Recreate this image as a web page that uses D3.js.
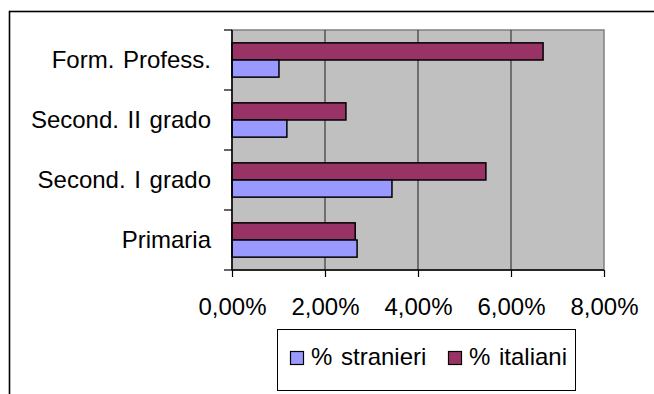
<!DOCTYPE html>
<html>
<head>
<meta charset="utf-8">
<script src="https://cdn.jsdelivr.net/npm/d3@7"></script>
<style>
  html, body { margin: 0; padding: 0; background: #fff; }
  svg { display: block; }
  text { font-family: "Liberation Sans", Arial, sans-serif; fill: #000; word-spacing: 2px; }
</style>
</head>
<body>
<svg id="chart" width="654" height="394"></svg>
<script>
// School levels, bottom to top as drawn on the vertical axis
const categories = ["Primaria", "Second. I grado", "Second. II grado", "Form. Profess."];
// Share of pupils (%) per level
const stranieri = [2.69, 3.44, 1.18, 1.01];
const italiani  = [2.65, 5.46, 2.45, 6.69];
const xTicks = [0, 2, 4, 6, 8];
const seriesNames = ["% stranieri", "% italiani"];
const seriesColors = ["#9999ff", "#993366"];

const svg = d3.select("#chart");
const W = 654, H = 394;
const FS = 24;

// outer chart frame (runs past the right and bottom edges)
svg.append("rect")
  .attr("x", 9.5).attr("y", 11.5)
  .attr("width", W + 20).attr("height", H + 20)
  .attr("fill", "#fff").attr("stroke", "#000").attr("stroke-width", 1.6);

const plot = { left: 232, right: 604, top: 30, bottom: 270 };

const x = d3.scaleLinear().domain([0, 8]).range([plot.left, plot.right]);
const y = d3.scaleBand()
  .domain(categories.slice().reverse())
  .range([plot.top, plot.bottom]);
// italiani sits above stranieri within each band
const inner = d3.scaleBand()
  .domain(["italiani", "stranieri"])
  .range([0, y.bandwidth()])
  .paddingOuter(0.75)
  .paddingInner(0);

// plot area
svg.append("rect")
  .attr("x", plot.left).attr("y", plot.top)
  .attr("width", plot.right - plot.left).attr("height", plot.bottom - plot.top)
  .attr("fill", "#c0c0c0").attr("stroke", "#808080").attr("stroke-width", 1.5);

// vertical gridlines
svg.append("g")
  .selectAll("line")
  .data(xTicks.filter(d => d > 0 && d < 8))
  .join("line")
  .attr("x1", d => x(d)).attr("x2", d => x(d))
  .attr("y1", plot.top).attr("y2", plot.bottom)
  .attr("stroke", "#3a3a3a").attr("stroke-width", 1.2);

// bars
const rows = categories.map((c, i) => ({ cat: c, stranieri: stranieri[i], italiani: italiani[i] }));
const barG = svg.append("g");
["italiani", "stranieri"].forEach(key => {
  barG.selectAll("rect." + key)
    .data(rows)
    .join("rect")
    .attr("class", key)
    .attr("x", x(0))
    .attr("y", d => y(d.cat) + inner(key))
    .attr("width", d => x(d[key]) - x(0))
    .attr("height", inner.bandwidth())
    .attr("fill", key === "italiani" ? seriesColors[1] : seriesColors[0])
    .attr("stroke", "#000").attr("stroke-width", 1.5);
});

// x axis
const xAxis = svg.append("g")
  .attr("transform", `translate(0,${plot.bottom})`)
  .call(d3.axisBottom(x).tickValues(xTicks).tickSize(7).tickPadding(21)
    .tickFormat(d => d3.format(".2f")(d).replace(".", ",") + "%"));
xAxis.select(".domain").attr("stroke", "#000").attr("stroke-width", 1.5)
  .attr("d", `M${plot.left},0H${plot.right}`);
xAxis.selectAll(".tick line").attr("stroke", "#000").attr("stroke-width", 1.2);
xAxis.selectAll(".tick text").attr("font-size", FS).attr("dy", "0.71em");

// y axis
const yAxis = svg.append("g")
  .attr("transform", `translate(${plot.left},0)`)
  .call(d3.axisLeft(y).tickSize(0).tickPadding(21));
yAxis.select(".domain").attr("stroke", "#000").attr("stroke-width", 1.5)
  .attr("d", `M0,${plot.top}V${plot.bottom}`);
yAxis.selectAll(".tick text").attr("font-size", FS).attr("dy", "0.35em");
// category boundary ticks
svg.append("g")
  .selectAll("line")
  .data(d3.range(categories.length + 1))
  .join("line")
  .attr("x1", plot.left - 8).attr("x2", plot.left)
  .attr("y1", i => plot.top + i * y.step()).attr("y2", i => plot.top + i * y.step())
  .attr("stroke", "#000").attr("stroke-width", 1.2);

// legend
const lg = svg.append("g");
lg.append("rect")
  .attr("x", 277.5).attr("y", 329.5).attr("width", 298).attr("height", 61)
  .attr("fill", "#fff").attr("stroke", "#000").attr("stroke-width", 1);
const legendItems = [
  { name: seriesNames[0], color: seriesColors[0], sx: 290.5, tx: 311 },
  { name: seriesNames[1], color: seriesColors[1], sx: 448.5, tx: 469 }
];
legendItems.forEach(it => {
  lg.append("rect")
    .attr("x", it.sx).attr("y", 351.5).attr("width", 13).attr("height", 13)
    .attr("fill", it.color).attr("stroke", "#000").attr("stroke-width", 1.2);
  lg.append("text")
    .attr("x", it.tx).attr("y", 365)
    .attr("font-size", FS)
    .text(it.name);
});
</script>
</body>
</html>
